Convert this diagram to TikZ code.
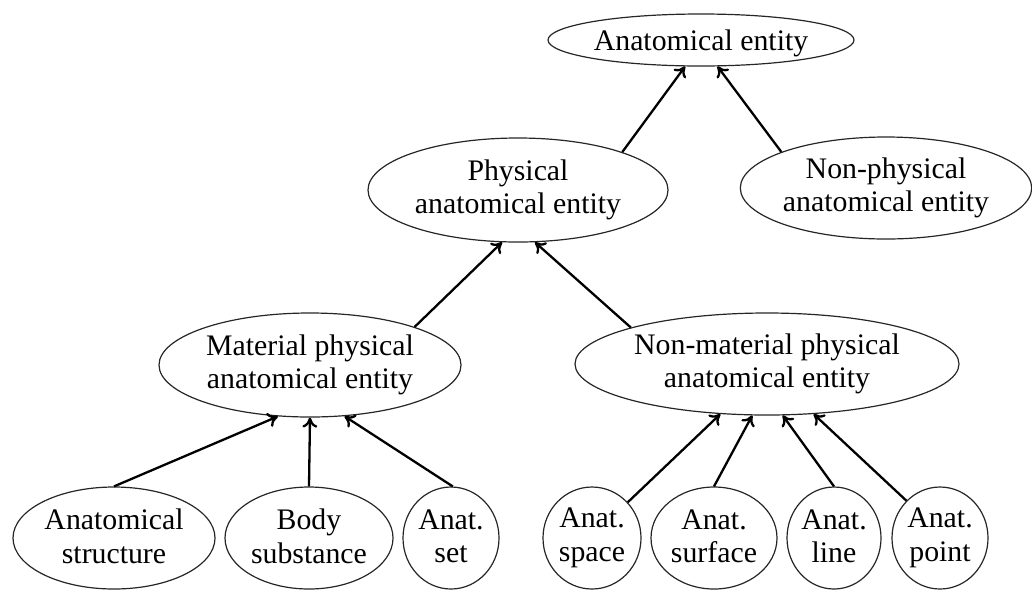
\documentclass[tikz,border=0pt]{standalone}
\usepackage{fontspec}
\setmainfont{Liberation Serif}
\usetikzlibrary{shapes.geometric,arrows.meta}
% fixed line height and depth so every label sits at the same place
\newcommand{\labelstrut}{\rule[-2pt]{0pt}{16pt}}
\begin{document}
\begin{tikzpicture}[x=0.5pt,y=-0.5pt,
  concept/.style={draw=black!85, line width=0.6pt, ellipse, inner sep=0pt,
    align=center, font=\fontsize{14.9}{16.8}\selectfont,
    execute at begin node=\labelstrut, execute at end node=\labelstrut},
  isa/.style={line width=1.15pt, -{To[length=5pt,width=7.5pt]}}]
\useasboundingbox (0,0) rectangle (1032,590);

% top level
\node[concept, minimum width=153pt, minimum height=26pt] (T) at (701,40) {Anatomical entity};

% second level
\node[concept, minimum width=150pt, minimum height=52pt] (P) at (518,190) {Physical\\anatomical entity};
\node[concept, minimum width=144pt, minimum height=51pt] (NP) at (886,188) {Non-physical\\anatomical entity};

% third level
\node[concept, minimum width=151pt, minimum height=52pt] (M) at (310,365) {Material physical\\anatomical entity};
\node[concept, minimum width=192pt, minimum height=51pt] (N) at (767,364) {Non-material physical\\anatomical entity};

% leaves
\node[concept, minimum width=101pt, minimum height=51pt] (S) at (114,538) {Anatomical\\structure};
\node[concept, minimum width=84pt, minimum height=51pt] (B) at (309,538) {Body\\substance};
\node[concept, minimum width=48pt, minimum height=51pt] (St) at (451,538) {Anat.\\set};
\node[concept, minimum width=49pt, minimum height=51pt] (Sp) at (592,538) {Anat.\\space};
\node[concept, minimum width=63pt, minimum height=51pt] (Su) at (714,538) {Anat.\\surface};
\node[concept, minimum width=47pt, minimum height=51pt] (L) at (834,538) {Anat.\\line};
\node[concept, minimum width=48pt, minimum height=51pt] (Pt) at (940,538) {Anat.\\point};

% is-a links, child to parent
\draw[isa] (P.20) -- (T.239);
\draw[isa] (NP.161) -- (T.302);
\draw[isa] (M.20) -- (P.253);
\draw[isa] (N.165) -- (P.288);
\draw[isa] (S.90) -- (M.238);
\draw[isa] (B.90) -- (M.270);
\draw[isa] (St.88) -- (M.304);
\draw[isa] (Sp.45) -- (N.227);
\draw[isa] (Su.90) -- (N.254);
\draw[isa] (L.90) -- (N.287);
\draw[isa] (Pt.132) -- (N.313);
\end{tikzpicture}
\end{document}
